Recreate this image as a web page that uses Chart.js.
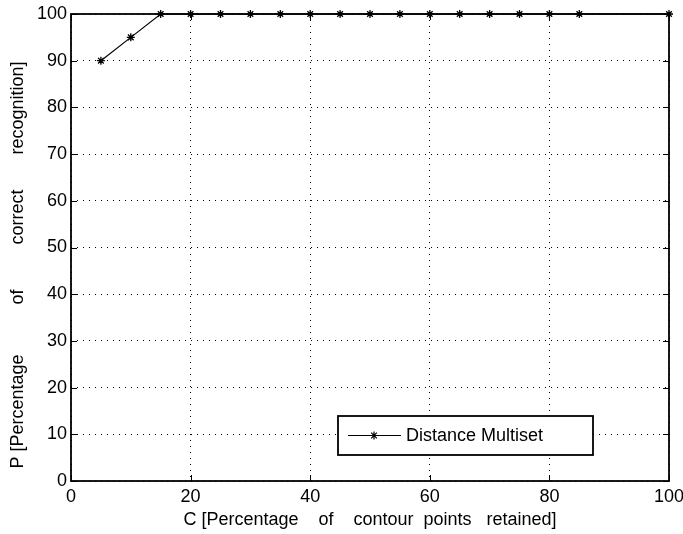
<!DOCTYPE html>
<html>
<head>
<meta charset="utf-8">
<script src="https://cdn.jsdelivr.net/npm/chart.js@4.4.1/dist/chart.umd.min.js"></script>
<style>
  html, body { margin: 0; padding: 0; background: #fff; }
  #wrap { width: 683px; height: 534px; }
</style>
</head>
<body>
<div id="wrap"><canvas id="chart" width="683" height="534"></canvas></div>
<script>
// data
var retained = [5, 10, 15, 20, 25, 30, 35, 40, 45, 50, 55, 60, 65, 70, 75, 80, 85, 100];
var recognition = [90, 95, 100, 100, 100, 100, 100, 100, 100, 100, 100, 100, 100, 100, 100, 100, 100, 100];
var seriesName = 'Distance Multiset';
var xTitle = 'C [Percentage    of    contour  points   retained]';
var yTitle = 'P [Percentage          of         correct       recognition]       ';

var FONT = { family: '"Liberation Sans", Arial, sans-serif', size: 18 };

var points = [];
for (var i = 0; i < retained.length; i++) {
    points.push({ x: retained[i], y: recognition[i] });
}

// box round the plot, inward ticks (matlab style) and legend in the plot
var frame = {
    id: 'frame',
    afterDatasetsDraw: function (chart) {
        var ctx = chart.ctx;
        var a = chart.chartArea;
        var xs = chart.scales.x, ys = chart.scales.y;
        ctx.save();
        ctx.strokeStyle = '#000';
        ctx.lineWidth = 1;
        ctx.beginPath();
        xs.ticks.forEach(function (t) {
            var px = Math.round(xs.getPixelForValue(t.value)) + 0.5;
            ctx.moveTo(px, a.bottom); ctx.lineTo(px, a.bottom - 6);
            ctx.moveTo(px, a.top); ctx.lineTo(px, a.top + 6);
        });
        ys.ticks.forEach(function (t) {
            var py = Math.round(ys.getPixelForValue(t.value)) + 0.5;
            ctx.moveTo(a.left, py); ctx.lineTo(a.left + 6, py);
            ctx.moveTo(a.right, py); ctx.lineTo(a.right - 6, py);
        });
        ctx.stroke();
        ctx.lineWidth = 1.8;
        ctx.strokeRect(a.left, a.top, a.right - a.left, a.bottom - a.top);

        // legend
        var ds = chart.data.datasets[0];
        var lx = 338, ly = 416, lw = 255, lh = 39;
        ctx.fillStyle = '#fff';
        ctx.fillRect(lx, ly, lw, lh);
        ctx.lineWidth = 1.8;
        ctx.strokeRect(lx, ly, lw, lh);
        var my = ly + lh / 2;
        ctx.lineWidth = 1.2;
        ctx.beginPath();
        ctx.moveTo(lx + 10, my); ctx.lineTo(lx + 63, my);
        ctx.stroke();
        Chart.helpers.drawPoint(ctx, { pointStyle: 'star', radius: 4, borderWidth: 1.3 }, lx + 36, my);
        ctx.fillStyle = '#000';
        ctx.font = FONT.size + 'px ' + FONT.family;
        ctx.textBaseline = 'middle';
        ctx.textAlign = 'left';
        ctx.fillText(ds.label, lx + 68, my + 1);
        ctx.restore();
    }
};

new Chart(document.getElementById('chart'), {
    type: 'line',
    data: {
        datasets: [{
            label: seriesName,
            data: points,
            borderColor: '#000',
            backgroundColor: '#000',
            borderWidth: 1.2,
            pointStyle: 'star',
            pointRadius: 4,
            pointBorderWidth: 1.3,
            pointBorderColor: '#000',
            tension: 0,
            clip: false
        }]
    },
    options: {
        responsive: false,
        animation: false,
        layout: { padding: { top: 14, right: 14, left: 0, bottom: 0 } },
        plugins: {
            legend: { display: false },
            tooltip: { enabled: false }
        },
        scales: {
            x: {
                type: 'linear',
                min: 0,
                max: 100,
                ticks: { stepSize: 20, color: '#000', font: FONT, padding: 5, maxRotation: 0 },
                grid: { color: '#000', lineWidth: 1, drawTicks: false },
                border: { display: false, dash: [1, 5] },
                title: { display: true, text: xTitle, color: '#000', font: FONT, padding: { top: 0, bottom: 3 } },
                afterFit: function (s) { s.height = 53; s.paddingLeft = 0; s.paddingRight = 0; }
            },
            y: {
                min: 0,
                max: 100,
                ticks: { stepSize: 10, color: '#000', font: FONT, padding: 4 },
                grid: { color: '#000', lineWidth: 1, drawTicks: false },
                border: { display: false, dash: [1, 5] },
                title: { display: true, text: yTitle, color: '#000', font: FONT, padding: { top: 7, bottom: 0 } },
                afterFit: function (s) { s.width = 71; s.paddingTop = 0; s.paddingBottom = 0; }
            }
        }
    },
    plugins: [frame]
});
</script>
</body>
</html>
